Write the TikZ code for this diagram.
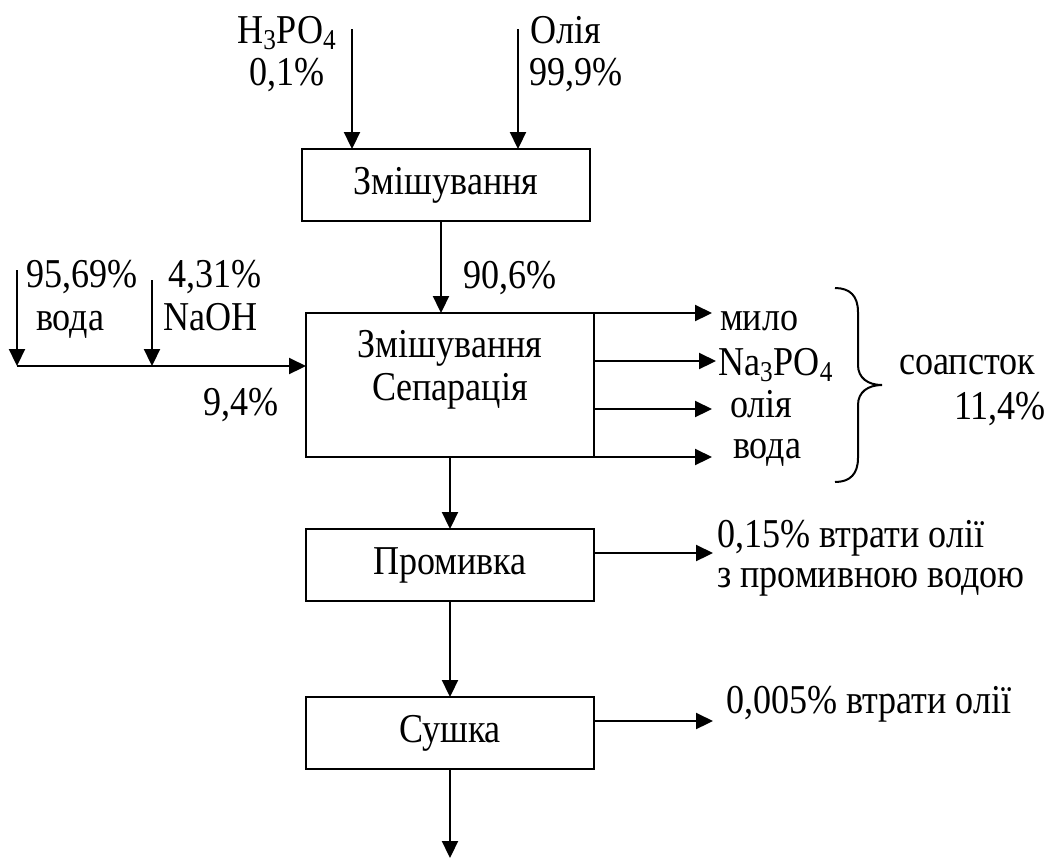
\documentclass[tikz,border=0pt]{standalone}
\usepackage{fontspec}
\setmainfont{Liberation Serif}[FakeStretch=0.88]
\usetikzlibrary{arrows.meta,calc}
\begin{document}
\begin{tikzpicture}[x=0.5pt,y=-0.5pt,
  line width=1.1pt,
  every node/.style={font=\fontsize{20.5}{24}\selectfont},
  procbox/.style={draw,rectangle,minimum width=144pt,minimum height=36pt,inner sep=0pt,outer sep=0pt,line width=1.1pt},
  lbl/.style={inner sep=0pt,anchor=base west},
  lble/.style={inner sep=0pt,anchor=base east},
  lblc/.style={inner sep=0pt,anchor=base},
  arr/.style={-{Triangle[length=8.5pt,width=8pt]}}]
\useasboundingbox (0,0) rectangle (1051,859);
% boxes
\node[procbox] (mix) at (446,185) {Змішування};
\node[procbox,minimum height=72pt] (sep) at (450,385) {};
\node[lblc] (septxt1) at (450,357) {Змішування};
\node[lblc] (septxt2) at (450,400) {Сепарація};
\node[procbox] (prom) at (450,565) {Промивка};
\node[procbox] (sush) at (450,733) {Сушка};
% top inputs
\coordinate (h3) at (352,29);
\coordinate (ol) at (518,29);
\node[lblc] (h3l) at (287,43) {H\textsubscript{3}PO\textsubscript{4}};
\node[lblc] (h3p) at (287,85) {0,1\%};
\node[lbl] (oll) at (529,43) {Олія};
\node[lbl] (olp) at (528,85) {99,9\%};
\draw[arr] (h3) -- (h3 |- mix.north);
\draw[arr] (ol) -- (ol |- mix.north);
% mix -> sep
\coordinate (m1) at (441,221);
\draw[arr] (m1) -- (m1 |- sep.north);
\node[lbl] (p906) at (462,288) {90,6\%};
% left inputs
\coordinate (w1) at (17,270);
\coordinate (w2) at (152,280);
\coordinate (j1) at (17,366);
\coordinate (j2) at (152,366);
\draw[arr] (w1) -- (j1);
\draw[arr] (w2) -- (j2);
\draw[arr] (j1) -- (j1 -| sep.west);
\node[lbl] (wp) at (25,287) {95,69\%};
\node[lbl] (wl) at (35,330) {вода};
\node[lbl] (np) at (167,287) {4,31\%};
\node[lbl] (nl) at (162,330) {NaOH};
\node[lbl] (p94) at (202,415) {9,4\%};
% right outputs of sep
\coordinate (o1) at (712,313);
\coordinate (o2) at (716,361);
\coordinate (o3) at (712,409);
\coordinate (o4) at (712,457);
\draw[arr] (o1 -| sep.east) -- (o1);
\draw[arr] (o2 -| sep.east) -- (o2);
\draw[arr] (o3 -| sep.east) -- (o3);
\draw[arr] (o4 -| sep.east) -- (o4);
\node[lbl] (r1) at (719,330) {мило};
\node[lbl] (r2) at (717,375) {Na\textsubscript{3}PO\textsubscript{4}};
\node[lbl] (r3) at (729,417) {олія};
\node[lbl] (r4) at (732,458) {вода};
% brace
\draw[line width=1pt] (835,288) .. controls (850,288) and (858,296) .. (858,312) -- (858,365)
  .. controls (858,378) and (868,385) .. (882,385)
  .. controls (868,385) and (858,392) .. (858,405) -- (858,458)
  .. controls (858,474) and (850,482) .. (835,482);
\node[lbl] (soap) at (898,374) {соапсток};
\node[lble] (soapp) at (1047,419) {11,4\%};
% down chain
\draw[arr] (sep.south) -- (prom.north);
\draw[arr] (prom.south) -- (sush.north);
\coordinate (endc) at (450,858);
\draw[arr] (sush.south) -- (endc);
% losses
\coordinate (l1) at (713,553);
\coordinate (l2) at (713,721);
\draw[arr] (l1 -| prom.east) -- (l1);
\draw[arr] (l2 -| sush.east) -- (l2);
\node[lbl] (loss1a) at (716,547) {0,15\% втрати олії};
\node[lbl] (loss1b) at (716,587) {з промивною водою};
\node[lbl] (loss2) at (725,713) {0,005\% втрати олії};
\end{tikzpicture}
\end{document}
